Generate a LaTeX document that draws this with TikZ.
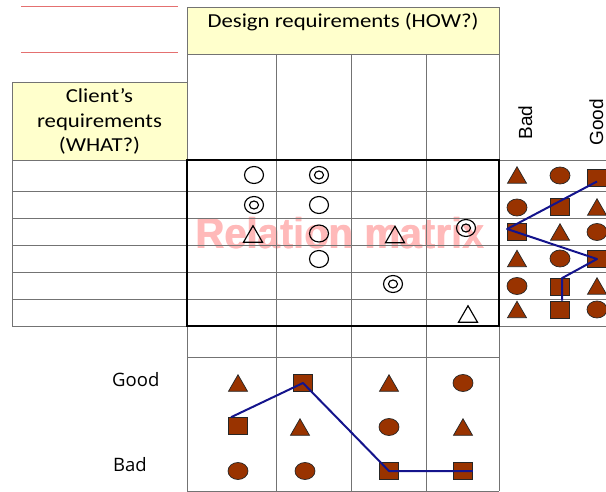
\documentclass[tikz,border=0pt]{standalone}
\usepackage{fontspec}
\setmainfont{Carlito}
\newfontfamily\opensans{Open Sans}
\newfontfamily\arialfam{Liberation Sans}
\usetikzlibrary{shapes.geometric}
\definecolor{hdryellow}{RGB}{255,255,204}
\definecolor{gridgray}{RGB}{115,115,115}
\definecolor{brick}{RGB}{153,51,0}
\definecolor{navyline}{RGB}{20,20,140}
\definecolor{rulepink}{RGB}{228,112,112}
\definecolor{markpink}{RGB}{255,185,185}
\newcommand{\widen}[1]{\scalebox{1.15}[1]{#1}}
% heavier lettering: the text set twice, slightly offset
\newcommand{\heavy}[1]{\makebox[0pt][l]{\hspace{0.7pt}#1}#1}

\begin{document}
\begin{tikzpicture}[x=1pt, y=-1pt,
  grid/.style={draw=gridgray, line width=0.8pt},
  hdr/.style={font=\fontsize{19.8}{25}\selectfont, inner sep=0, anchor=base},
  scale label/.style={font=\opensans\fontsize{18.5}{22}\selectfont, inner sep=0, anchor=base west},
  side label/.style={font=\arialfam\fontsize{19}{22}\selectfont, inner sep=0, anchor=base, rotate=90},
  opencirc/.style={ellipse, draw=black, line width=1.15pt, minimum width=19pt, minimum height=17pt, inner sep=0},
  dblcirc/.style={opencirc, path picture={\draw[line width=1.15pt] (path picture bounding box.center) ellipse (4.5pt and 4pt);}},
  opentri/.style={regular polygon, regular polygon sides=3, draw=black, line width=1.15pt, minimum size=22pt, inner sep=0, yshift=-2.75pt},
  solid shape/.style={fill=brick, draw=black!85, line width=0.7pt, inner sep=0},
  bsq/.style={solid shape, rectangle, minimum width=19pt, minimum height=17pt},
  bcirc/.style={solid shape, ellipse, minimum width=20pt, minimum height=17pt},
  btri/.style={solid shape, regular polygon, regular polygon sides=3, minimum size=22pt, yshift=-2.75pt},
  trend/.style={draw=navyline, line width=2pt, line join=round}
]
\useasboundingbox (0,0) rectangle (606,492);

% header fills
\fill[hdryellow] (187,7) rectangle (499,54);
\fill[hdryellow] (12,82) rectangle (187,160);

% watermark behind the grid
\node[font=\arialfam\bfseries\fontsize{43}{43}\selectfont, text=markpink, anchor=base, inner sep=0]
  (watermark) at (340,249) {\scalebox{0.93}[1]{\heavy{Relation matrix}}};

% table grid
\draw[grid] (187,7) rectangle (499,54);
\draw[grid] (12,82) rectangle (187,160);
\foreach \x in {187,276,351,426,499} \draw[grid] (\x,54) -- (\x,491);
\foreach \y in {160,191,218,245,272,299,326} \draw[grid] (12,\y) -- (606,\y);
\draw[grid] (12,160) -- (12,326);
\draw[grid] (187,357) -- (499,357);
\draw[grid] (187,491) -- (499,491);
\draw[black, line width=2.2pt] (187,160) rectangle (499,326);

% short red rules at top left
\draw[rulepink, line width=1pt] (21,7) -- (178,7);
\draw[rulepink, line width=1pt] (21,53) -- (178,53);

% headings
\node[hdr] (how) at (343,27.3) {\widen{Design requirements (HOW?)}};
\node[hdr] (what1) at (99.5,102.7) {\widen{Client’s}};
\node[hdr] (what2) at (99.5,127.7) {\widen{requirements}};
\node[hdr] (what3) at (99.5,151.7) {\widen{(WHAT?)}};

\node[side label] (sidebad) at (532,122.5) {Bad};
\node[side label] (sidegood) at (603,122.5) {Good};
\node[scale label] (lowgood) at (112,386) {Good};
\node[scale label] (lowbad) at (113,471.5) {Bad};

% relation symbols
\node[opencirc] (m1a) at (254,175) {};
\node[dblcirc]  (m1b) at (319,175) {};
\node[dblcirc]  (m2a) at (254,205) {};
\node[opencirc] (m2b) at (319,205) {};
\node[opentri]  (m3a) at (253,234) {};
\node[opencirc] (m3b) at (319,233.5) {};
\node[opentri]  (m3c) at (395,234.5) {};
\node[dblcirc]  (m3d) at (466,228) {};
\node[opencirc] (m4b) at (319,259) {};
\node[dblcirc]  (m5c) at (393,284) {};
\node[opentri]  (m6d) at (468,314) {};

% competitor ratings per requirement (right)
\node[btri]  (r1a) at (517,175) {};
\node[bcirc] (r1b) at (560,175.5) {};
\node[bsq]   (r1c) at (597,177.5) {};
\node[bcirc] (r2a) at (517,207.5) {};
\node[bsq]   (r2b) at (560,207) {};
\node[btri]  (r2c) at (597,207) {};
\node[bsq]   (r3a) at (517,232) {};
\node[btri]  (r3b) at (560,232) {};
\node[bcirc] (r3c) at (597,232) {};
\node[btri]  (r4a) at (517,258.5) {};
\node[bcirc] (r4b) at (560,258.5) {};
\node[bsq]   (r4c) at (597,259) {};
\node[bcirc] (r5a) at (517,286) {};
\node[bsq]   (r5b) at (560,287) {};
\node[btri]  (r5c) at (597,286) {};
\node[btri]  (r6a) at (517,309.5) {};
\node[bsq]   (r6b) at (560,309.5) {};
\node[bcirc] (r6c) at (597,309.5) {};

% competitor ratings per design requirement (bottom)
\node[btri]  (b1a) at (238,383) {};
\node[bsq]   (b1b) at (238,426) {};
\node[bcirc] (b1c) at (238,471) {};
\node[bsq]   (b2a) at (303,383) {};
\node[btri]  (b2b) at (300,427) {};
\node[bcirc] (b2c) at (305,471) {};
\node[btri]  (b3a) at (389,383) {};
\node[bcirc] (b3b) at (389,427) {};
\node[bsq]   (b3c) at (389,471) {};
\node[bcirc] (b4a) at (463,383) {};
\node[btri]  (b4b) at (463,427) {};
\node[bsq]   (b4c) at (463,471) {};

% profile lines
\draw[trend] ([yshift=-4pt]r1c.center) -- ([yshift=3pt]r3a.west) -- (r4c.center)
  -- ([xshift=2pt]r5b.north) -- ([xshift=2pt]r6b.north);
\draw[trend] ([xshift=3pt]b1b.north west) -- (b2a.center) -- (b3c.center) -- (b4c.east);
\end{tikzpicture}
\end{document}
